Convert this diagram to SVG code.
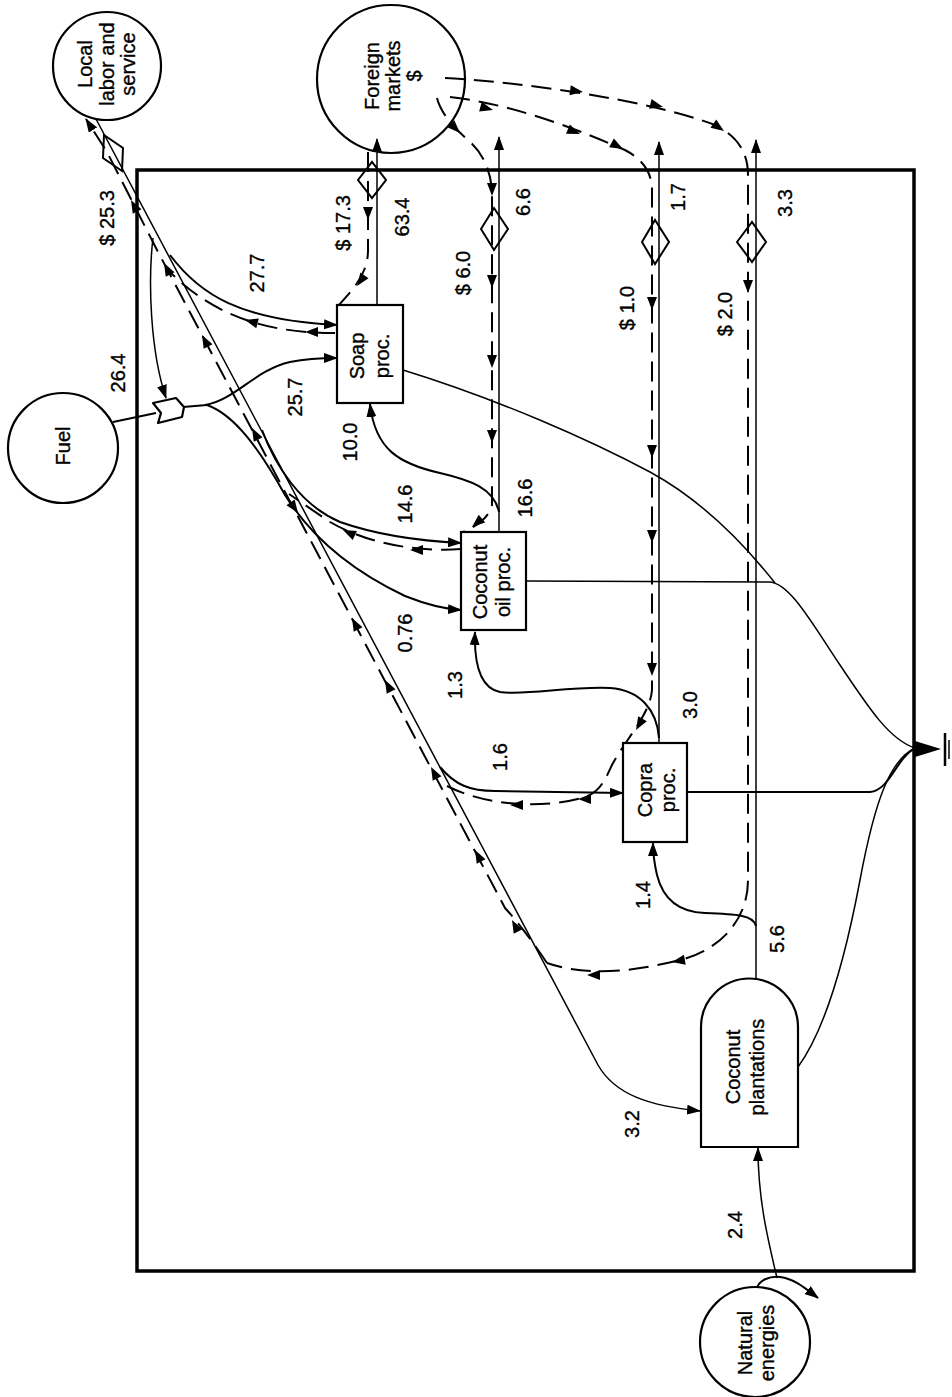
<svg xmlns="http://www.w3.org/2000/svg" xmlns:xlink="http://www.w3.org/1999/xlink" width="952" height="1397" viewBox="0 0 952 1397">
<style>
.bg{fill:#fff}
.frame{fill:none;stroke:#000;stroke-width:3.5}
.nd{fill:#fff;stroke:#000;stroke-width:2.2}
.nf{fill:none;stroke:#000;stroke-width:2.2}
.sym{fill:none;stroke:#000;stroke-width:2}
.s{fill:none;stroke:#000;stroke-width:2}
.t{fill:none;stroke:#000;stroke-width:1.5}
.d{fill:none;stroke:#000;stroke-width:2;stroke-dasharray:20 9}
.lbl{font-family:"Liberation Sans",Arial,sans-serif;font-size:20px;fill:#000;stroke:#000;stroke-width:0.35;text-anchor:middle}
.ah{fill:#000}
</style>
<defs>
<marker id="ar" viewBox="0 0 14 10" refX="13" refY="5" markerWidth="14" markerHeight="10" markerUnits="userSpaceOnUse" orient="auto"><path d="M0,0 L14,5 L0,10 Z" fill="#000"/></marker>
<path id="ah" d="M0,0 L-13,-5 L-13,5 Z"/>
</defs>
<rect class="bg" x="0" y="0" width="952" height="1397"/>
<rect id="boundary" class="frame" x="137" y="170" width="777" height="1101"/>

<g id="connectors">
<path class="t" d="M96 119 L598 1065 C615 1095 650 1106 700 1111" marker-end="url(#ar)"/>
<path class="d" d="M547 963 Q525 930 505 908 L157 250 L107 152 L86 119" marker-end="url(#ar)"/>
<path class="t" d="M153 238 C148 280 150 350 166 398" marker-end="url(#ar)"/>
<path class="s" d="M170 255 C200 295 240 320 337 325" marker-end="url(#ar)"/>
<path class="d" d="M335 333 C270 333 215 318 168 270"/>
<path class="d" d="M368 152 L368 250 C368 275 352 290 339 305"/>
<path class="t" d="M377 305 L377 139" marker-end="url(#ar)"/>
<path class="s" d="M113 422 L156 413"/>
<path class="s" d="M183 407 L207 405"/>
<path class="s" d="M205 405 C235 400 255 370 290 362 C305 359 320 358 337 358" marker-end="url(#ar)"/>
<path class="s" d="M207 405 C235 415 260 450 285 495 C310 535 350 570 405 596 C425 604 445 609 461 610" marker-end="url(#ar)"/>
<path class="s" d="M262 430 C275 465 300 505 340 522 C380 536 420 541 461 543" marker-end="url(#ar)"/>
<path class="d" d="M461 549 C420 552 370 545 330 522 C312 510 298 500 289 494"/>
<path class="t" d="M499 532 L499 137" marker-end="url(#ar)"/>
<path class="s" d="M499 512 C494 488 470 480 440 473 C400 464 375 450 370 404" marker-end="url(#ar)"/>
<path class="d" d="M437 98 C440 110 450 125 468 140 C482 152 490 168 492 190 L492 505 C490 515 480 525 463 532"/>
<path class="d" d="M445 78 C520 82 650 100 715 125 C735 135 748 150 748 175 L748 880 C748 920 720 950 680 960 C640 970 590 978 547 963"/>
<path class="d" d="M450 97 C520 105 590 135 625 150 C640 158 652 170 652 190 L652 690 C650 715 625 740 612 765 C605 780 600 792 585 797 C550 808 490 808 447 786"/>
<path class="t" d="M659 743 L659 142" marker-end="url(#ar)"/>
<path class="s" d="M659 738 C657 710 640 690 610 688 C570 686 525 696 500 692 C480 688 474 665 475 632" marker-end="url(#ar)"/>
<path class="s" d="M440 767 C455 785 470 791 495 791 L623 793" marker-end="url(#ar)"/>
<path class="t" d="M756 978 L756 140" marker-end="url(#ar)"/>
<path class="s" d="M756 926 C754 915 735 914 705 913 C675 912 662 895 657 875 C654 862 653 852 653 843" marker-end="url(#ar)"/>
<path class="s" d="M757 1289 C758 1280 770 1276 780 1277 C795 1279 805 1288 818 1298" marker-end="url(#ar)"/>
<path class="t" d="M777 1278 C768 1240 758 1200 758 1148" marker-end="url(#ar)"/>
<path class="t" d="M403 370 C500 400 590 440 650 472 C705 502 745 545 775 583"/>
<path class="t" d="M526 581 L770 582 C790 584 810 620 840 665 C870 710 890 740 915 748"/>
<path class="s" d="M687 792 L870 792 C890 790 895 760 915 748"/>
<path class="t" d="M798 1067 C825 1030 845 960 860 880 C875 800 890 760 915 748"/>
<use href="#ah" class="ah" transform="translate(131 200) rotate(-118)"/>
<use href="#ah" class="ah" transform="translate(164 263) rotate(-118)"/>
<use href="#ah" class="ah" transform="translate(202 335) rotate(-118)"/>
<use href="#ah" class="ah" transform="translate(252 428) rotate(-118)"/>
<use href="#ah" class="ah" transform="translate(352 618) rotate(-118)"/>
<use href="#ah" class="ah" transform="translate(385 680) rotate(-118)"/>
<use href="#ah" class="ah" transform="translate(431 767) rotate(-118)"/>
<use href="#ah" class="ah" transform="translate(475 850) rotate(-118)"/>
<use href="#ah" class="ah" transform="translate(512 920) rotate(-118)"/>
<use href="#ah" class="ah" transform="translate(305 332) rotate(180)"/>
<use href="#ah" class="ah" transform="translate(245 320) rotate(195)"/>
<use href="#ah" class="ah" transform="translate(410 550) rotate(180)"/>
<use href="#ah" class="ah" transform="translate(343 530) rotate(205)"/>
<use href="#ah" class="ah" transform="translate(298 513) rotate(55)"/>
<use href="#ah" class="ah" transform="translate(368 220) rotate(90)"/>
<use href="#ah" class="ah" transform="translate(357 286) rotate(125)"/>
<use href="#ah" class="ah" transform="translate(460 133) rotate(45)"/>
<use href="#ah" class="ah" transform="translate(492 196) rotate(90)"/>
<use href="#ah" class="ah" transform="translate(492 288) rotate(90)"/>
<use href="#ah" class="ah" transform="translate(492 368) rotate(90)"/>
<use href="#ah" class="ah" transform="translate(492 443) rotate(90)"/>
<use href="#ah" class="ah" transform="translate(472 527) rotate(140)"/>
<use href="#ah" class="ah" transform="translate(583 92) rotate(8)"/>
<use href="#ah" class="ah" transform="translate(663 107) rotate(14)"/>
<use href="#ah" class="ah" transform="translate(724 131) rotate(35)"/>
<use href="#ah" class="ah" transform="translate(748 293) rotate(90)"/>
<use href="#ah" class="ah" transform="translate(672 962) rotate(170)"/>
<use href="#ah" class="ah" transform="translate(587 975) rotate(180)"/>
<use href="#ah" class="ah" transform="translate(493 110) rotate(15)"/>
<use href="#ah" class="ah" transform="translate(580 134) rotate(22)"/>
<use href="#ah" class="ah" transform="translate(623 149) rotate(28)"/>
<use href="#ah" class="ah" transform="translate(652 310) rotate(90)"/>
<use href="#ah" class="ah" transform="translate(652 458) rotate(90)"/>
<use href="#ah" class="ah" transform="translate(652 543) rotate(90)"/>
<use href="#ah" class="ah" transform="translate(652 676) rotate(90)"/>
<use href="#ah" class="ah" transform="translate(636 730) rotate(120)"/>
<use href="#ah" class="ah" transform="translate(578 799) rotate(180)"/>
<use href="#ah" class="ah" transform="translate(510 805) rotate(180)"/>
</g>

<g id="labels">
<text class="lbl" transform="translate(107 218) rotate(-90)" y="7">$ 25.3</text>
<text class="lbl" transform="translate(257 273) rotate(-90)" y="7">27.7</text>
<text class="lbl" transform="translate(118 373) rotate(-90)" y="7">26.4</text>
<text class="lbl" transform="translate(295 397) rotate(-90)" y="7">25.7</text>
<text class="lbl" transform="translate(343 223) rotate(-90)" y="7">$ 17.3</text>
<text class="lbl" transform="translate(402 217) rotate(-90)" y="7">63.4</text>
<text class="lbl" transform="translate(523 202) rotate(-90)" y="7">6.6</text>
<text class="lbl" transform="translate(463 273) rotate(-90)" y="7">$ 6.0</text>
<text class="lbl" transform="translate(350 442) rotate(-90)" y="7">10.0</text>
<text class="lbl" transform="translate(405 504) rotate(-90)" y="7">14.6</text>
<text class="lbl" transform="translate(525 498) rotate(-90)" y="7">16.6</text>
<text class="lbl" transform="translate(405 633) rotate(-90)" y="7">0.76</text>
<text class="lbl" transform="translate(455 685) rotate(-90)" y="7">1.3</text>
<text class="lbl" transform="translate(500 757) rotate(-90)" y="7">1.6</text>
<text class="lbl" transform="translate(690 705) rotate(-90)" y="7">3.0</text>
<text class="lbl" transform="translate(678 197) rotate(-90)" y="7">1.7</text>
<text class="lbl" transform="translate(627 308) rotate(-90)" y="7">$ 1.0</text>
<text class="lbl" transform="translate(785 203) rotate(-90)" y="7">3.3</text>
<text class="lbl" transform="translate(725 314) rotate(-90)" y="7">$ 2.0</text>
<text class="lbl" transform="translate(643 895) rotate(-90)" y="7">1.4</text>
<text class="lbl" transform="translate(777 939) rotate(-90)" y="7">5.6</text>
<text class="lbl" transform="translate(632 1124) rotate(-90)" y="7">3.2</text>
<text class="lbl" transform="translate(735 1225) rotate(-90)" y="7">2.4</text>
</g>

<g id="local-labor">
<circle class="nd" cx="107" cy="66" r="54"/>
<text class="lbl" transform="translate(107 64) rotate(-90)"><tspan x="0" y="-15">Local</tspan><tspan x="0" y="7">labor and</tspan><tspan x="0" y="28">service</tspan></text>
</g>
<g id="foreign-markets">
<circle class="nf" cx="391" cy="79" r="74"/>
<text class="lbl" transform="translate(393 76) rotate(-90)"><tspan x="0" y="-14">Foreign</tspan><tspan x="0" y="7">markets</tspan><tspan x="0" y="28">$</tspan></text>
</g>
<g id="fuel">
<circle class="nd" cx="63" cy="448" r="55"/>
<text class="lbl" transform="translate(63 446) rotate(-90)" y="7">Fuel</text>
</g>
<g id="natural-energies">
<circle class="nd" cx="755" cy="1342" r="55"/>
<text class="lbl" transform="translate(756 1343) rotate(-90)"><tspan x="0" y="-4">Natural</tspan><tspan x="0" y="18">energies</tspan></text>
</g>
<g id="soap-proc">
<rect class="nd" x="337" y="305" width="66" height="98"/>
<text class="lbl" transform="translate(370 356) rotate(-90)"><tspan x="0" y="-6">Soap</tspan><tspan x="0" y="19">proc.</tspan></text>
</g>
<g id="coconut-oil-proc">
<rect class="nd" x="461" y="532" width="65" height="98"/>
<text class="lbl" transform="translate(492 582) rotate(-90)"><tspan x="0" y="-5">Coconut</tspan><tspan x="0" y="18">oil proc.</tspan></text>
</g>
<g id="copra-proc">
<rect class="nd" x="623" y="743" width="64" height="99"/>
<text class="lbl" transform="translate(656 790) rotate(-90)"><tspan x="0" y="-4">Copra</tspan><tspan x="0" y="19">proc.</tspan></text>
</g>
<g id="coconut-plantations">
<path class="nd" d="M701 1147 L701 1027 A48.5 48.5 0 0 1 798 1027 L798 1147 Z"/>
<text class="lbl" transform="translate(745 1067) rotate(-90)"><tspan x="0" y="-5">Coconut</tspan><tspan x="0" y="19">plantations</tspan></text>
</g>
<g id="fuel-gate">
<path class="nd" stroke-linejoin="round" d="M153 403 L176 398 L184 407 L182 417 L158 423 L161 413 Z"/>
</g>
<g id="transactions">
<polygon class="sym" points="104,135 123,148 122,171 103,158"/>
<polygon class="sym" points="358,180 372,162 386,180 372,198"/>
<polygon class="sym" points="481,229 494,208 508,229 494,250"/>
<polygon class="sym" points="642,242 655,220 669,242 655,264"/>
<polygon class="sym" points="737,242 752,222 766,242 752,262"/>
</g>
<g id="heat-sink">
<path d="M915 741 L941 749 L915 757 Z" fill="#000"/>
<line x1="945" y1="733" x2="945" y2="766" stroke="#000" stroke-width="2.5"/>
<line x1="949" y1="740" x2="949" y2="759" stroke="#000" stroke-width="1.5"/>
</g>
</svg>
